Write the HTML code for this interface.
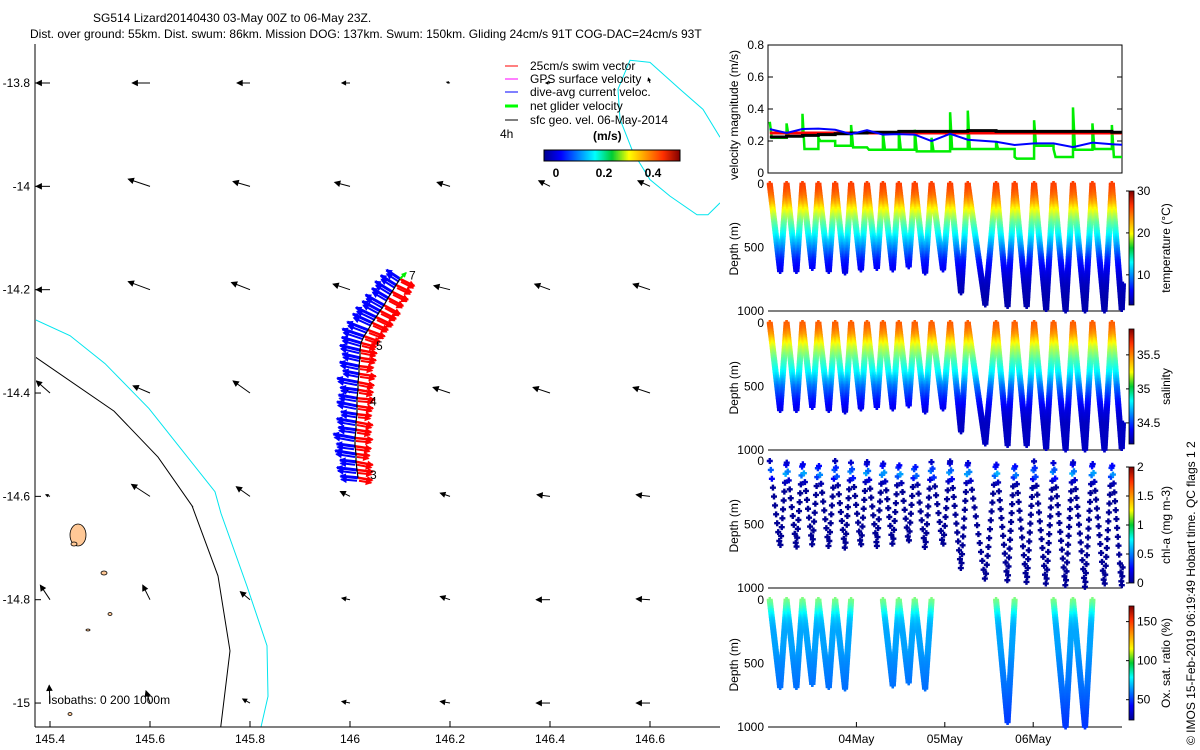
<!DOCTYPE html>
<html><head><meta charset="utf-8">
<style>
html,body{margin:0;padding:0;background:#fff;}
svg{display:block;font-family:"Liberation Sans",Arial,sans-serif;}
text{font-size:12px;fill:#000;}
</style></head>
<body>
<svg id="fig" width="1200" height="750" viewBox="0 0 1200 750" xmlns="http://www.w3.org/2000/svg">
<defs>
<clipPath id="mapclip"><rect x="36" y="44" width="684" height="683"/></clipPath>
<clipPath id="vclip"><rect x="768" y="45" width="354" height="128"/></clipPath>
<linearGradient id="jetH" x1="0" x2="1" y1="0" y2="0">
<stop offset="0" stop-color="#00008f"/><stop offset="0.125" stop-color="#0000ff"/><stop offset="0.375" stop-color="#00ffff"/><stop offset="0.5" stop-color="#00cc33"/><stop offset="0.625" stop-color="#ffff00"/><stop offset="0.875" stop-color="#ff3000"/><stop offset="1" stop-color="#800000"/>
</linearGradient>
<linearGradient id="jetV" x1="0" x2="0" y1="1" y2="0">
<stop offset="0" stop-color="#00008f"/><stop offset="0.125" stop-color="#0000ff"/><stop offset="0.375" stop-color="#00ffff"/><stop offset="0.5" stop-color="#00cc33"/><stop offset="0.625" stop-color="#ffff00"/><stop offset="0.875" stop-color="#ff3000"/><stop offset="1" stop-color="#800000"/>
</linearGradient>
</defs>
<g>
<text x="93" y="22">SG514 Lizard20140430 03-May 00Z to 06-May 23Z.</text>
<text x="30" y="38">Dist. over ground: 55km. Dist. swum: 86km. Mission DOG: 137km. Swum: 150km. Gliding 24cm/s 91T COG-DAC=24cm/s 93T</text>
</g>
<g id="map"></g>
<g id="legend">
<line x1="505" y1="66" x2="518" y2="66" stroke="#f00"/><text x="530" y="70">25cm/s swim vector</text>
<line x1="505" y1="79" x2="518" y2="79" stroke="#f0f"/><text x="530" y="83">GPS surface velocity</text>
<line x1="505" y1="92" x2="518" y2="92" stroke="#00f"/><text x="530" y="96">dive-avg current veloc.</text>
<line x1="505" y1="106" x2="518" y2="106" stroke="#0f0" stroke-width="3"/><text x="530" y="110">net glider velocity</text>
<line x1="505" y1="120" x2="518" y2="120" stroke="#000"/><text x="530" y="124">sfc geo. vel. 06-May-2014</text>
<text x="500" y="138">4h</text>
<text x="593" y="140" font-weight="bold">(m/s)</text>
<rect x="544" y="150" width="136" height="11" fill="url(#jetH)" stroke="#000"/>
<text x="556" y="177" text-anchor="middle" font-weight="bold">0</text>
<text x="604" y="177" text-anchor="middle" font-weight="bold">0.2</text>
<text x="653" y="177" text-anchor="middle" font-weight="bold">0.4</text>
</g>
<g id="right"></g>
<text transform="translate(1195,745) rotate(-90)">© IMOS 15-Feb-2019 06:19:49 Hobart time. QC flags 1  2</text>
</svg>
<script>
// ---------- data ----------
const mapLonTicks=[145.4,145.6,145.8,146,146.2,146.4,146.6];
const mapLatTicks=[-13.8,-14,-14.2,-14.4,-14.6,-14.8,-15];
const gridLon=[145.4,145.6,145.8,146.0,146.2,146.4,146.6];
const gridLat=[-13.8,-14.0,-14.2,-14.4,-14.6,-14.8,-15.0];
const geoU=[[-0.17,-0.22,-0.16,-0.10,-0.04,-0.05,-0.02],
[-0.17,-0.27,-0.21,-0.19,-0.16,-0.14,-0.15],
[-0.17,-0.27,-0.23,-0.21,-0.20,-0.19,-0.21],
[-0.17,-0.21,-0.21,-0.06,-0.21,-0.21,-0.21],
[-0.05,-0.23,-0.17,-0.12,-0.12,-0.16,-0.17],
[-0.12,-0.09,-0.12,-0.10,-0.12,-0.17,-0.17],
[-0.01,-0.05,-0.09,-0.10,-0.12,-0.17,-0.17]];
const geoV=[[0.0,0.0,0.0,0.0,0.01,0.0,0.06],
[0.0,0.09,0.06,0.05,0.05,0.07,0.07],
[0.0,0.10,0.09,0.07,0.05,0.07,0.07],
[0.15,0.09,0.15,0.04,0.07,0.07,0.07],
[0.02,0.15,0.12,0.06,0.04,0.02,0.02],
[0.18,0.18,0.10,0.02,0.04,0.0,0.01],
[0.22,0.15,0.05,0.02,0.02,0.0,0.0]];
const coast1Lon=[145.37,145.44,145.51,145.598,145.73,145.742,145.794,145.834,145.836,145.816];
const coast1Lat=[-14.258,-14.289,-14.343,-14.430,-14.591,-14.633,-14.774,-14.889,-14.987,-15.072];
const iso200Lon=[145.37,145.528,145.616,145.686,145.684,145.736,145.76,145.74];
const iso200Lat=[-14.330,-14.435,-14.524,-14.621,-14.618,-14.754,-14.899,-15.058];
const cyan2Lon=[146.74,146.706,146.66,146.6,146.56,146.536,146.54,146.566,146.6,146.64,146.694,146.716,146.74];
const cyan2Lat=[-13.905,-13.851,-13.812,-13.760,-13.756,-13.812,-13.870,-13.934,-13.987,-14.019,-14.055,-14.055,-14.032];
const trackLon=[146.016,146.014,146.012,146.012,146.010,146.010,146.012,146.012,146.014,146.014,146.014,146.016,146.016,146.018,146.018,146.020,146.020,146.022,146.028,146.036,146.044,146.052,146.060,146.068,146.076,146.084,146.092,146.100];
const trackLat=[-14.564,-14.549,-14.533,-14.518,-14.503,-14.487,-14.471,-14.456,-14.441,-14.425,-14.410,-14.394,-14.379,-14.363,-14.348,-14.332,-14.317,-14.303,-14.290,-14.278,-14.264,-14.253,-14.241,-14.230,-14.216,-14.204,-14.191,-14.179];
const curU=[-0.22,-0.25,-0.2,-0.26,-0.23,-0.27,-0.22,-0.24,-0.2,-0.25,-0.23,-0.22,-0.26,-0.2,-0.24,-0.22,-0.25,-0.24,-0.27,-0.26,-0.24,-0.25,-0.22,-0.23,-0.2,-0.21,-0.19,-0.17];
const curV=[0.02,0.03,0.02,0.04,0.03,0.05,0.03,0.04,0.03,0.05,0.04,0.03,0.05,0.04,0.05,0.05,0.06,0.07,0.09,0.1,0.11,0.12,0.12,0.13,0.12,0.13,0.12,0.11];
const swimU=[0.18,0.2,0.21,0.17,0.2,0.22,0.19,0.21,0.18,0.2,0.22,0.19,0.2,0.21,0.18,0.2,0.21,0.19,0.2,0.21,0.2,0.21,0.2,0.2,0.19,0.2,0.19,0.18];
const swimV=[-0.03,-0.02,-0.04,-0.02,-0.03,-0.02,-0.03,-0.04,-0.02,-0.03,-0.02,-0.03,-0.04,-0.03,-0.02,-0.03,-0.04,-0.05,-0.07,-0.08,-0.09,-0.1,-0.1,-0.11,-0.1,-0.1,-0.09,-0.09];
const trackLabels=["3","4","5","7"];
const trackLabelLon=[146.04,146.04,146.052,146.118];
const trackLabelLat=[-14.566,-14.424,-14.317,-14.180];
const dateTicks=[1,2,3];
const dateLabels=["04May","05May","06May"];
const velTicks=[0,0.2,0.4,0.6,0.8];
const surfDays=[0.02,0.21,0.39,0.57,0.76,0.94,1.12,1.30,1.48,1.66,1.85,2.06,2.26,2.58,2.79,3.01,3.23,3.45,3.67,3.89,4.07];
const maxDepth=[690,690,670,690,700,680,670,680,650,700,680,860,950,960,970,990,1000,1000,1000,990];
const netVel=[0.22,0.23,0.15,0.2,0.17,0.16,0.145,0.145,0.145,0.135,0.135,0.15,0.15,0.15,0.09,0.17,0.1,0.145,0.15,0.1,0.15];
const netSpike=[0.32,0.31,0.37,0.22,0.17,0.3,0.16,0.25,0.26,0.27,0.22,0.38,0.39,0.2,0.1,0.33,0.15,0.41,0.31,0.3,0.29];
const swimVel=[0.25,0.25,0.25,0.25,0.25,0.25,0.25,0.25,0.25,0.25,0.25,0.25,0.25,0.25,0.25,0.25,0.25,0.25,0.25,0.25,0.25];
const geoVel=[0.225,0.23,0.235,0.24,0.245,0.25,0.255,0.255,0.26,0.26,0.26,0.26,0.265,0.26,0.26,0.26,0.26,0.26,0.26,0.255,0.255];
const dacVel=[0.274,0.25,0.275,0.277,0.27,0.243,0.268,0.24,0.243,0.24,0.2,0.245,0.208,0.195,0.175,0.185,0.185,0.162,0.19,0.18,0.175];
const profDepth=[0,50,100,150,200,250,300,400,500,600,700,800,900,1000];
const tempProf=[25,24.5,23.5,22,20,18,16,13,10,7,5.5,4.5,4,4];
const salProf=[35.52,35.48,35.4,35.28,35.15,35.05,34.95,34.8,34.6,34.45,34.35,34.3,34.3,34.3];
const chlProf=[0.1,0.3,0.6,0.15,0.05,0.04,0.04,0.04,0.04,0.04,0.04,0.04,0.04,0.04];
const oxProf=[97,90,80,72,68,66,66,65,62,60,58,55,52,50];
const oxDives=[0,1,2,3,4,7,8,9,13,16,17];
const tempTicks=[10,20,30], salTicks=[34.5,35,35.5], chlTicks=[0,0.5,1,1.5,2], oxTicks=[50,100,150];
const depthTicks=[0,500,1000];

// ---------- helpers ----------
const NS="http://www.w3.org/2000/svg";
function mk(tag,attrs,parent){const e=document.createElementNS(NS,tag);for(const k in attrs)e.setAttribute(k,attrs[k]);parent.appendChild(e);return e;}
const mx=lon=>50+(lon-145.4)*500;
const my=lat=>83+(-13.8-lat)*516.7;
const tx=d=>768+d*88.4;
const vy=v=>173-v*160;
function jet(t){t=Math.max(0,Math.min(1,t));const c=x=>Math.round(255*Math.max(0,Math.min(1,x)));return `rgb(${c(1.5-Math.abs(4*t-3))},${c(1.5-Math.abs(4*t-2))},${c(1.5-Math.abs(4*t-1))})`;}
function interp(xs,ys,x){if(x<=xs[0])return ys[0];for(let i=1;i<xs.length;i++){if(x<=xs[i]){const f=(x-xs[i-1])/(xs[i]-xs[i-1]);return ys[i-1]+f*(ys[i]-ys[i-1]);}}return ys[ys.length-1];}
function arrow(g,x,y,dx,dy,color,w,name){
  const p=mk('path',{d:`M${x},${y}L${x+dx},${y+dy}`,stroke:color,'stroke-width':w,fill:'none'},g);
  
  
  const L=Math.hypot(dx,dy)||1,ux=dx/L,uy=dy/L,hs=Math.min(5,L*0.45);
  const hx=x+dx,hy=y+dy;
  const h=mk('path',{d:`M${hx},${hy}L${hx-ux*hs-uy*hs*0.5},${hy-uy*hs+ux*hs*0.5}L${hx-ux*hs+uy*hs*0.5},${hy-uy*hs-ux*hs*0.5}Z`,fill:color,stroke:color},g);
  
  
}
// ---------- map ----------
const map=document.getElementById('map');
const mg=mk('g',{'clip-path':'url(#mapclip)'},map);
function poly(lons,lats,color,name){const p=mk('polyline',{points:lons.map((l,i)=>mx(l)+','+my(lats[i])).join(' '),fill:'none',stroke:color,'stroke-width':1},mg);

}
poly(coast1Lon,coast1Lat,'#00e5ee','isobath-1000m');
poly(iso200Lon,iso200Lat,'#000','isobath-200m');
poly(cyan2Lon,cyan2Lat,'#00e5ee','isobath-1000m-north');
const isl=[[78,535,8,11],[74,544,3,2],[104,573,3,2],[110,614,2,1.5],[88,630,2,1],[70,714,2,1.5]];
isl.forEach(s=>{const e=mk('ellipse',{cx:s[0],cy:s[1],rx:s[2],ry:s[3],fill:'#ffc896',stroke:'#000','stroke-width':0.8},mg);

});
const S=80;
gridLat.forEach((la,r)=>gridLon.forEach((lo,c)=>{arrow(mg,mx(lo),my(la),geoU[r][c]*S,-geoV[r][c]*S,'#000',1,'geo-vector');}));
trackLon.forEach((lo,i)=>{const x=mx(lo),y=my(trackLat[i]);
 arrow(mg,x,y,curU[i]*S,-curV[i]*S,'#0000ff',3,'current-vector');
 arrow(mg,x-1,y+3,curU[i]*S*0.9,-curV[i]*S*0.9,'#0000ff',2,'current-vector');});
trackLon.forEach((lo,i)=>{const x=mx(lo),y=my(trackLat[i]);
 arrow(mg,x,y,swimU[i]*S,-swimV[i]*S,'#ff0000',2.5,'swim-vector');
 arrow(mg,x+1,y+3,swimU[i]*S*0.85,-swimV[i]*S*0.85,'#ff0000',2,'swim-vector');});
const tr=mk('polyline',{points:trackLon.map((l,i)=>mx(l)+','+my(trackLat[i])).join(' '),fill:'none',stroke:'#000','stroke-width':1.2},mg);


const tl=trackLon.length-1;
arrow(mg,mx(trackLon[tl]),my(trackLat[tl]),6,-6,'#00ee00',2,'net-glider-vector');
trackLabels.forEach((s,i)=>{const t=mk('text',{x:mx(trackLabelLon[i]),y:my(trackLabelLat[i])},mg);t.textContent=s;

});
const iso=mk('text',{x:48,y:704},map);iso.textContent='Isobaths: 0   200  1000m';


mk('line',{x1:35,y1:44,x2:35,y2:727,stroke:'#000'},map);
mk('line',{x1:35,y1:727,x2:720,y2:727,stroke:'#000'},map);
mapLonTicks.forEach(v=>{const x=mx(v);mk('line',{x1:x,y1:727,x2:x,y2:721,stroke:'#000'},map);
const t=mk('text',{x:x,y:743,'text-anchor':'middle'},map);t.textContent=String(v);

});
mapLatTicks.forEach(v=>{const y=my(v);mk('line',{x1:35,y1:y,x2:41,y2:y,stroke:'#000'},map);
const t=mk('text',{x:30,y:y+4,'text-anchor':'end'},map);t.textContent=v.toFixed(1).replace('.0','');

});

// ---------- right panels ----------
const R=document.getElementById('right');
mk('rect',{x:768,y:45,width:354,height:128,fill:'none',stroke:'#000'},R);
velTicks.forEach(v=>{const y=vy(v);mk('line',{x1:768,y1:y,x2:773,y2:y,stroke:'#000'},R);mk('line',{x1:1122,y1:y,x2:1117,y2:y,stroke:'#000'},R);
const t=mk('text',{x:764,y:y+4,'text-anchor':'end'},R);t.textContent=String(v);

});
const vl=mk('text',{transform:'translate(738,180) rotate(-90)'},R);vl.textContent='velocity magnitude (m/s)';


const vg=mk('g',{'clip-path':'url(#vclip)'},R);
function stepPath(vals,spikes){let d='';for(let i=0;i<vals.length;i++){const a=tx(surfDays[i]),b=tx(i+1<surfDays.length?surfDays[i+1]:4.1);
 if(spikes){d+=(i?'L':'M')+a+','+vy(spikes[i])+'L'+(a+2)+','+vy(vals[i])+'L'+b+','+vy(vals[i]);}
 else d+=(i?'L':'M')+a+','+vy(vals[i])+'L'+b+','+vy(vals[i]);}return d;}
let p=mk('path',{d:stepPath(netVel,netSpike),stroke:'#00ee00','stroke-width':2.5,fill:'none'},vg);


p=mk('path',{d:stepPath(swimVel),stroke:'#ff0000','stroke-width':3,fill:'none'},vg);


p=mk('path',{d:stepPath(geoVel),stroke:'#000','stroke-width':3,fill:'none'},vg);


p=mk('polyline',{points:dacVel.map((v,i)=>tx(surfDays[i])+','+vy(v)).join(' '),stroke:'#0000ff','stroke-width':2,fill:'none'},vg);



const panels=[
 {top:184,prof:tempProf,lo:2.8,hi:30,ticks:tempTicks,label:'temperature (°C)',name:'temperature',step:12,dives:null,cbTop:191,cbBot:305},
 {top:323,prof:salProf,lo:34.19,hi:35.88,ticks:salTicks,label:'salinity',name:'salinity',step:12,dives:null,cbTop:329,cbBot:444},
 {top:461,prof:chlProf,lo:0,hi:2,ticks:chlTicks,label:'chl-a (mg m-3)',name:'chlorophyll',step:70,dives:null,cbTop:467,cbBot:583},
 {top:600,prof:oxProf,lo:24,hi:170,ticks:oxTicks,label:'Ox. sat. ratio (%)',name:'oxygen',step:12,dives:oxDives,cbTop:606,cbBot:720}];
panels.forEach((P,pi)=>{
 const H=127, dy=d=>P.top+d/1000*H;
 const g=mk('g',{},R);
 
 
 mk('line',{x1:768,y1:P.top+H,x2:1122,y2:P.top+H,stroke:'#000'},g);
 depthTicks.forEach(v=>{const t=mk('text',{x:764,y:dy(v)+4,'text-anchor':'end'},g);t.textContent=String(v);
 
 });
 const yl=mk('text',{transform:`translate(738,${P.top+H/2+28}) rotate(-90)`},g);yl.textContent='Depth (m)';
 
 
 const cb=mk('rect',{x:1129,y:P.cbTop,width:5,height:P.cbBot-P.cbTop,fill:'url(#jetV)',stroke:'#000','stroke-width':0.8},g);
 
 
 P.ticks.forEach(v=>{const y=P.cbBot-(v-P.lo)/(P.hi-P.lo)*(P.cbBot-P.cbTop);
 mk('line',{x1:1129,y1:y,x2:1126,y2:y,stroke:'#000'},g);
 const t=mk('text',{x:1137,y:y+4},g);t.textContent=String(v);
 
 });
 const cl=mk('text',{transform:`translate(1170,${(P.cbTop+P.cbBot)/2}) rotate(-90)`,'text-anchor':'middle'},g);cl.textContent=P.label;
 
 
 const sg=mk('g',{},g);
 for(let i=0;i<maxDepth.length;i++){
  if(P.dives && P.dives.indexOf(i)<0) continue;
  const t0=surfDays[i],t1=surfDays[i+1],tb=t0+0.62*(t1-t0),D=maxDepth[i];
  for(let leg=0;leg<2;leg++){
   const off=(pi==2)?(leg*31+i*13)%70:0;
   for(let d=off;d<=D;d+=P.step){
    const day=leg==0?t0+(tb-t0)*d/D:t1-(t1-tb)*d/D;
    const x=tx(day); if(x>1123) continue;
    const y=dy(d);
    const val=interp(profDepth,P.prof,d);
    const c=jet((val-P.lo)/(P.hi-P.lo));
    const m=mk('path',{d:`M${x-3},${y}h6M${x},${y-3}v6`,stroke:c,'stroke-width':2.4},sg);
    
    
   }
  }
 }
});
dateTicks.forEach((d,i)=>{const x=tx(d);mk('line',{x1:x,y1:727,x2:x,y2:722,stroke:'#000'},R);
const t=mk('text',{x:x,y:743,'text-anchor':'middle'},R);t.textContent=dateLabels[i];

});
</script>
</body></html>
